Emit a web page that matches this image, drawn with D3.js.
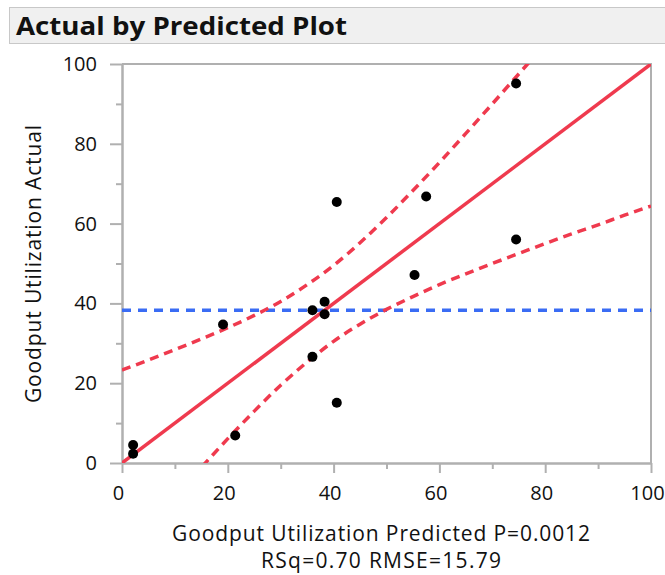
<!DOCTYPE html>
<html>
<head>
<meta charset="utf-8">
<script src="https://cdn.jsdelivr.net/npm/d3@7"></script>
<style>
  body { margin: 0; background: #fff; }
  text { font-family: "Open Sans", "Noto Sans", sans-serif; fill: #111; }
</style>
</head>
<body>
<script>
const predicted = [2.1, 2.1, 19.1, 21.4, 36.0, 36.0, 38.3, 38.3, 40.6, 40.6, 55.3, 57.5, 74.5, 74.5];
const actual    = [4.5, 2.3, 34.7, 6.9, 26.6, 38.3, 40.4, 37.3, 15.1, 65.4, 47.1, 66.8, 56.0, 95.1];
const meanActual = 38.3;

const fitX = [0, 100];
const fitY = [0, 100];

const bandX     = [0, 5, 10, 15, 20, 25, 30, 35, 40, 45, 50, 55, 60, 65, 70, 75, 80, 85, 90, 95, 100];
const bandUpper = [23.3, 25.8, 28.4, 31.1, 33.9, 37.0, 40.5, 44.7, 49.5, 55.2, 61.5, 68.3, 75.3, 82.6, 90.0, 97.5, 105.0, 112.6, 120.3, 127.9, 135.6];
const bandLower = [-23.3, -15.8, -8.4, -1.1, 6.1, 13.0, 19.5, 25.3, 30.5, 34.8, 38.5, 41.7, 44.7, 47.4, 50.0, 52.5, 55.0, 57.4, 59.7, 62.1, 64.4];

const majorTicks = [0, 20, 40, 60, 80, 100];
const minorTicks = [10, 30, 50, 70, 90];

const title = "Actual by Predicted Plot";
const xTitle1 = "Goodput Utilization Predicted P=0.0012";
const xTitle2 = "RSq=0.70 RMSE=15.79";
const yTitle = "Goodput Utilization Actual";

const red = "#ef3a4e";
const blue = "#3a6cf4";
const axisGrey = "#b0b0b0";

const W = 665, H = 575;
const mLeft = 122, mRight = 651, mTop = 64, mBottom = 463;

const svg = d3.select("body").append("svg")
  .attr("width", W)
  .attr("height", H);

// title bar
svg.append("rect")
  .attr("x", 9.5).attr("y", 7.5)
  .attr("width", W).attr("height", 36)
  .attr("fill", "#f0f0f0")
  .attr("stroke", "#c8c8c8");
svg.append("text")
  .attr("x", 16).attr("y", 35)
  .attr("font-size", "25px")
  .attr("font-weight", "bold")
  .attr("textLength", 331)
  .attr("lengthAdjust", "spacingAndGlyphs")
  .text(title);

const x = d3.scaleLinear().domain([0, 100]).range([mLeft, mRight]);
const y = d3.scaleLinear().domain([0, 100]).range([mBottom, mTop]);

// frame top / right
svg.append("path")
  .attr("d", `M${mLeft},${mTop}H${mRight}V${mBottom}`)
  .attr("fill", "none")
  .attr("stroke", axisGrey)
  .attr("stroke-width", 2);

function styleAxis(g) {
  g.select(".domain").attr("stroke", axisGrey).attr("stroke-width", 2);
  g.selectAll(".tick line").attr("stroke", axisGrey).attr("stroke-width", 2);
  g.selectAll(".tick text").attr("fill", "#111").attr("font-size", "20px")
    .attr("font-family", '"Open Sans", "Noto Sans", sans-serif');
}

// minor ticks
svg.append("g")
  .attr("transform", `translate(0,${mBottom})`)
  .call(d3.axisBottom(x).tickValues(minorTicks).tickSize(6).tickSizeOuter(0).tickFormat(""))
  .call(styleAxis);
svg.append("g")
  .attr("transform", `translate(${mLeft},0)`)
  .call(d3.axisLeft(y).tickValues(minorTicks).tickSize(6).tickSizeOuter(0).tickFormat(""))
  .call(styleAxis);

// major ticks
svg.append("g")
  .attr("transform", `translate(0,${mBottom})`)
  .call(d3.axisBottom(x).tickValues(majorTicks).tickSize(10).tickSizeOuter(0).tickPadding(12.5))
  .call(styleAxis)
  .call(g => g.selectAll(".tick text").attr("dx", "-4"));
svg.append("g")
  .attr("transform", `translate(${mLeft},0)`)
  .call(d3.axisLeft(y).tickValues(majorTicks).tickSize(12).tickSizeOuter(0).tickPadding(13))
  .call(styleAxis);

// axis titles
svg.append("text")
  .attr("x", 381).attr("y", 541)
  .attr("text-anchor", "middle")
  .attr("font-size", "21px")
  .attr("textLength", 418)
  .text(xTitle1);
svg.append("text")
  .attr("x", 381).attr("y", 568)
  .attr("text-anchor", "middle")
  .attr("font-size", "21px")
  .attr("textLength", 240)
  .text(xTitle2);
svg.append("text")
  .attr("transform", `translate(41,264) rotate(-90)`)
  .attr("text-anchor", "middle")
  .attr("font-size", "21px")
  .attr("textLength", 278)
  .text(yTitle);

// plot area clip
svg.append("clipPath").attr("id", "plotClip")
  .append("rect")
  .attr("x", mLeft).attr("y", mTop)
  .attr("width", mRight - mLeft).attr("height", mBottom - mTop);

const plot = svg.append("g").attr("clip-path", "url(#plotClip)");

// mean line
plot.append("line")
  .attr("x1", x(0)).attr("x2", x(100))
  .attr("y1", y(meanActual)).attr("y2", y(meanActual))
  .attr("stroke", blue)
  .attr("stroke-width", 3.5)
  .attr("stroke-dasharray", "9,7");

// confidence curves
const bandLine = d3.line()
  .x(d => x(d[0]))
  .y(d => y(d[1]))
  .curve(d3.curveMonotoneX);

[bandUpper, bandLower].forEach(vals => {
  plot.append("path")
    .datum(bandX.map((v, i) => [v, vals[i]]))
    .attr("d", bandLine)
    .attr("fill", "none")
    .attr("stroke", red)
    .attr("stroke-width", 3.5)
    .attr("stroke-dasharray", "9,6");
});

// fit line
plot.append("path")
  .datum(fitX.map((v, i) => [v, fitY[i]]))
  .attr("d", d3.line().x(d => x(d[0])).y(d => y(d[1])))
  .attr("fill", "none")
  .attr("stroke", red)
  .attr("stroke-width", 3.5);

// points
svg.append("g")
  .selectAll("circle")
  .data(predicted.map((p, i) => [p, actual[i]]))
  .enter()
  .append("circle")
  .attr("cx", d => x(d[0]))
  .attr("cy", d => y(d[1]))
  .attr("r", 5)
  .attr("fill", "#000");
</script>
</body>
</html>
